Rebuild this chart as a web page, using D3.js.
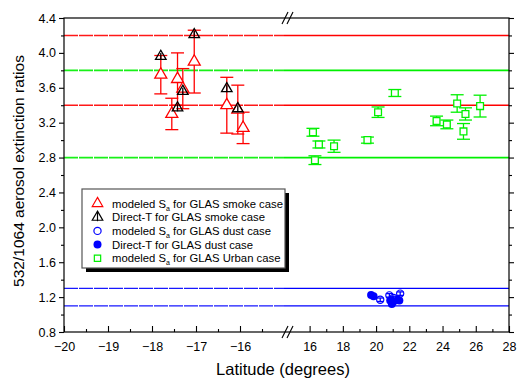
<!DOCTYPE html>
<html>
<head>
<meta charset="utf-8">
<script src="https://cdn.jsdelivr.net/npm/d3@7"></script>
<style>
  body { margin: 0; background: #fff; }
  text { font-family: "Liberation Sans", Arial, sans-serif; }
</style>
</head>
<body>
<div id="chart"></div>
<script>
// smoke case (southern segment)
const smokeModLat = [-17.8, -17.55, -17.42, -17.3, -17.04, -16.3, -16.05, -15.93];
const smokeModVal = [3.75, 3.30, 3.70, 3.59, 3.90, 3.40, 3.35, 3.14];
const smokeModErr = [0.22, 0.18, 0.30, 0.23, 0.36, 0.32, 0.28, 0.18];
const smokeDirLat = [-17.8, -17.42, -17.3, -17.04, -16.3, -16.05];
const smokeDirVal = [3.96, 3.37, 3.56, 4.21, 3.59, 3.36];
const smokeDirErr = [0.04, 0.04, 0.04, 0.04, 0.04, 0.04];

// dust case
const dustModLat = [20.25, 20.8, 21.05, 21.45];
const dustModVal = [1.17, 1.22, 1.19, 1.24];
const dustModErr = [0.02, 0.02, 0.02, 0.02];
const dustDirLat = [19.7, 19.85, 20.85, 20.95, 21.05, 21.3, 21.4];
const dustDirVal = [1.225, 1.21, 1.16, 1.12, 1.15, 1.17, 1.16];

// urban case
const urbanLat = [16.2, 16.32, 16.56, 17.47, 19.48, 20.12, 21.13, 23.64, 24.26, 24.88, 25.26, 25.38, 26.26];
const urbanVal = [3.09, 2.77, 2.95, 2.93, 3.00, 3.32, 3.54, 3.22, 3.18, 3.42, 3.10, 3.30, 3.39];
const urbanErr = [0.045, 0.05, 0.04, 0.07, 0.035, 0.06, 0.04, 0.055, 0.05, 0.10, 0.09, 0.07, 0.125];

// reference ranges
const smokeRange = [4.2, 3.4];
const urbanRange = [3.8, 2.8];
const dustRange = [1.3, 1.1];

const leftTicks = [-20, -19, -18, -17, -16];
const leftMinor = [-19.5, -18.5, -17.5, -16.5, -15.5];
const rightTicks = [16, 18, 20, 22, 24, 26, 28];
const rightMinor = [17, 19, 21, 23, 25, 27];
const yTicks = [0.8, 1.2, 1.6, 2.0, 2.4, 2.8, 3.2, 3.6, 4.0, 4.4];
const yMinor = [1.0, 1.4, 1.8, 2.2, 2.6, 3.0, 3.4, 3.8, 4.2];

const width = 518;
const height = 379;
const RED = '#ff0000';
const GREEN = '#00f000';
const BLUE = '#0000ff';

const svg = d3.select('#chart').append('svg')
  .attr('width', width)
  .attr('height', height);

const plotL = 64, plotR = 509, plotT = 18, plotB = 332;
const breakL = 284, breakR = 293;

const xLeft = d3.scaleLinear().domain([-20, -15]).range([plotL, breakL]);
const xRight = d3.scaleLinear().domain([15, 28]).range([breakR, plotR]);
const xPos = lat => (lat < 0 ? xLeft(lat) : xRight(lat));
const y = d3.scaleLinear().domain([0.8, 4.4]).range([plotB, plotT]);

// reference lines (left part slightly grainy, like the original)
function refLines(vals, color, w) {
  vals.forEach(v => {
    svg.append('line')
      .attr('x1', plotL).attr('x2', breakL)
      .attr('y1', y(v)).attr('y2', y(v))
      .attr('stroke', color).attr('stroke-width', w)
      .attr('stroke-dasharray', '14,1').attr('opacity', 0.9);
    svg.append('line')
      .attr('x1', breakL).attr('x2', plotR)
      .attr('y1', y(v)).attr('y2', y(v))
      .attr('stroke', color).attr('stroke-width', w);
  });
}
refLines(smokeRange, RED, 1.6);
refLines(urbanRange, GREEN, 1.8);
refLines(dustRange, BLUE, 1.2);

// error bars
function errorBars(lats, vals, errs, color, cap) {
  const g = svg.append('g').attr('stroke', color).attr('stroke-width', 1.3);
  lats.forEach((lat, i) => {
    const x = xPos(lat);
    const y1 = y(vals[i] + errs[i]);
    const y2 = y(vals[i] - errs[i]);
    g.append('line').attr('x1', x).attr('x2', x).attr('y1', y1).attr('y2', y2);
    if (cap > 0) {
      g.append('line').attr('x1', x - cap).attr('x2', x + cap).attr('y1', y1).attr('y2', y1);
      g.append('line').attr('x1', x - cap).attr('x2', x + cap).attr('y1', y2).attr('y2', y2);
    }
  });
}

const tri = d3.symbol().type(d3.symbolTriangle).size(62);
const square = d3.symbol().type(d3.symbolSquare).size(46);

errorBars(smokeModLat, smokeModVal, smokeModErr, RED, 6.5);
errorBars(urbanLat, urbanVal, urbanErr, GREEN, 6.5);
errorBars(dustModLat, dustModVal, dustModErr, BLUE, 3.5);

// red triangles
svg.append('g').selectAll('path')
  .data(smokeModLat)
  .enter()
  .append('path')
  .attr('d', tri)
  .attr('transform', (d, i) => `translate(${xPos(d)},${y(smokeModVal[i])})`)
  .attr('fill', '#fff')
  .attr('stroke', RED)
  .attr('stroke-width', 1.3);

// black triangles with their own small bars
errorBars(smokeDirLat, smokeDirVal, smokeDirErr, '#000', 0);
svg.append('g').selectAll('path')
  .data(smokeDirLat)
  .enter()
  .append('path')
  .attr('d', d3.symbol().type(d3.symbolTriangle).size(48))
  .attr('transform', (d, i) => `translate(${xPos(d)},${y(smokeDirVal[i])})`)
  .attr('fill', 'none')
  .attr('stroke', '#000')
  .attr('stroke-width', 1.3);

// green squares
svg.append('g').selectAll('path')
  .data(urbanLat)
  .enter()
  .append('path')
  .attr('d', square)
  .attr('transform', (d, i) => `translate(${xPos(d)},${y(urbanVal[i])})`)
  .attr('fill', '#fff')
  .attr('stroke', GREEN)
  .attr('stroke-width', 1.3);

// dust circles
svg.append('g').selectAll('circle')
  .data(dustModLat)
  .enter()
  .append('circle')
  .attr('cx', d => xPos(d))
  .attr('cy', (d, i) => y(dustModVal[i]))
  .attr('r', 3.6)
  .attr('fill', 'none')
  .attr('stroke', BLUE)
  .attr('stroke-width', 1.2);

svg.append('g').selectAll('circle')
  .data(dustDirLat)
  .enter()
  .append('circle')
  .attr('cx', d => xPos(d))
  .attr('cy', (d, i) => y(dustDirVal[i]))
  .attr('r', 4)
  .attr('fill', BLUE);

// axes
const axisG = svg.append('g');

function bottomAxis(scale, ticks, minor) {
  axisG.append('g')
    .attr('transform', `translate(0,${plotB})`)
    .call(d3.axisBottom(scale).tickValues(ticks).tickSizeInner(-6).tickSizeOuter(0).tickPadding(10)
      .tickFormat(d3.format('d')))
    .call(g => g.select('.domain').remove());
  axisG.append('g')
    .attr('transform', `translate(0,${plotB})`)
    .call(d3.axisBottom(scale).tickValues(minor).tickSizeInner(-3).tickSizeOuter(0).tickFormat(''))
    .call(g => g.select('.domain').remove());
}
bottomAxis(xLeft, leftTicks, leftMinor);
bottomAxis(xRight, rightTicks, rightMinor);

axisG.append('g')
  .attr('transform', `translate(${plotL},0)`)
  .call(d3.axisLeft(y).tickValues(yTicks).tickSizeInner(5).tickSizeOuter(0).tickPadding(3)
    .tickFormat(d3.format('.1f')))
  .call(g => g.select('.domain').remove());
axisG.append('g')
  .attr('transform', `translate(${plotL},0)`)
  .call(d3.axisLeft(y).tickValues(yMinor).tickSizeInner(3).tickSizeOuter(0).tickFormat(''))
  .call(g => g.select('.domain').remove());
axisG.append('g')
  .attr('transform', `translate(${plotR},0)`)
  .call(d3.axisRight(y).tickValues(yTicks).tickSizeInner(5).tickSizeOuter(0).tickFormat(''))
  .call(g => g.select('.domain').remove());
axisG.append('g')
  .attr('transform', `translate(${plotR},0)`)
  .call(d3.axisRight(y).tickValues(yMinor).tickSizeInner(3).tickSizeOuter(0).tickFormat(''))
  .call(g => g.select('.domain').remove());

axisG.selectAll('g').attr('font-size', 12.5).attr('font-family', '"Liberation Sans", Arial, sans-serif');
axisG.selectAll('.tick text').attr('fill', '#000');
axisG.selectAll('.tick line').attr('stroke', '#000').attr('stroke-width', 1.1);

// frame
svg.append('rect')
  .attr('x', plotL).attr('y', plotT)
  .attr('width', plotR - plotL).attr('height', plotB - plotT)
  .attr('fill', 'none').attr('stroke', '#000').attr('stroke-width', 1.2);

// break marks
[plotT, plotB].forEach(yy => {
  [0, 5].forEach(off => {
    svg.append('line')
      .attr('x1', breakL - 2 + off).attr('y1', yy + 6)
      .attr('x2', breakL + 4 + off).attr('y2', yy - 6)
      .attr('stroke', '#000').attr('stroke-width', 1.1);
  });
});

// axis titles
svg.append('text')
  .attr('x', 283).attr('y', 375)
  .attr('text-anchor', 'middle')
  .attr('font-size', 16.5)
  .text('Latitude (degrees)');

svg.append('text')
  .attr('transform', 'translate(24,171) rotate(-90)')
  .attr('text-anchor', 'middle')
  .attr('font-size', 15.5)
  .text('532/1064 aerosol extinction ratios');

// legend
const legend = svg.append('g');
legend.append('rect')
  .attr('x', 86).attr('y', 193).attr('width', 203).attr('height', 79)
  .attr('fill', '#000');
legend.append('rect')
  .attr('x', 82).attr('y', 189).attr('width', 203).attr('height', 79)
  .attr('fill', '#fff').attr('stroke', '#555').attr('stroke-width', 1.2);

const legendItems = [
  { pre: 'modeled S', sub: 'a', post: ' for GLAS smoke case', kind: 'tri' },
  { pre: 'Direct-T for GLAS smoke case', sub: '', post: '', kind: 'btri' },
  { pre: 'modeled S', sub: 'a', post: ' for GLAS dust case', kind: 'ocirc' },
  { pre: 'Direct-T for GLAS dust case', sub: '', post: '', kind: 'fcirc' },
  { pre: 'modeled S', sub: 'a', post: ' for GLAS Urban case', kind: 'sq' }
];

legendItems.forEach((item, i) => {
  const cy = 203.5 + i * 13.7;
  const sx = 97.5;
  if (item.kind === 'tri') {
    legend.append('path').attr('d', d3.symbol().type(d3.symbolTriangle).size(48))
      .attr('transform', `translate(${sx},${cy})`)
      .attr('fill', 'none').attr('stroke', RED).attr('stroke-width', 1.2);
  } else if (item.kind === 'btri') {
    legend.append('line').attr('x1', sx).attr('x2', sx).attr('y1', cy - 5).attr('y2', cy + 4)
      .attr('stroke', '#000').attr('stroke-width', 1.2);
    legend.append('path').attr('d', d3.symbol().type(d3.symbolTriangle).size(48))
      .attr('transform', `translate(${sx},${cy})`)
      .attr('fill', 'none').attr('stroke', '#000').attr('stroke-width', 1.2);
  } else if (item.kind === 'ocirc') {
    legend.append('circle').attr('cx', sx).attr('cy', cy).attr('r', 3.6)
      .attr('fill', 'none').attr('stroke', BLUE).attr('stroke-width', 1.2);
  } else if (item.kind === 'fcirc') {
    legend.append('circle').attr('cx', sx).attr('cy', cy).attr('r', 4).attr('fill', BLUE);
  } else {
    legend.append('path').attr('d', d3.symbol().type(d3.symbolSquare).size(40))
      .attr('transform', `translate(${sx},${cy})`)
      .attr('fill', 'none').attr('stroke', GREEN).attr('stroke-width', 1.2);
  }
  const t = legend.append('text')
    .attr('x', 112).attr('y', cy + 4)
    .attr('font-size', 11.3);
  t.append('tspan').text(item.pre);
  if (item.sub) {
    t.append('tspan').attr('font-size', 7).attr('dy', 3).text(item.sub);
    t.append('tspan').attr('dy', -3).text(item.post);
  }
});
</script>
</body>
</html>
